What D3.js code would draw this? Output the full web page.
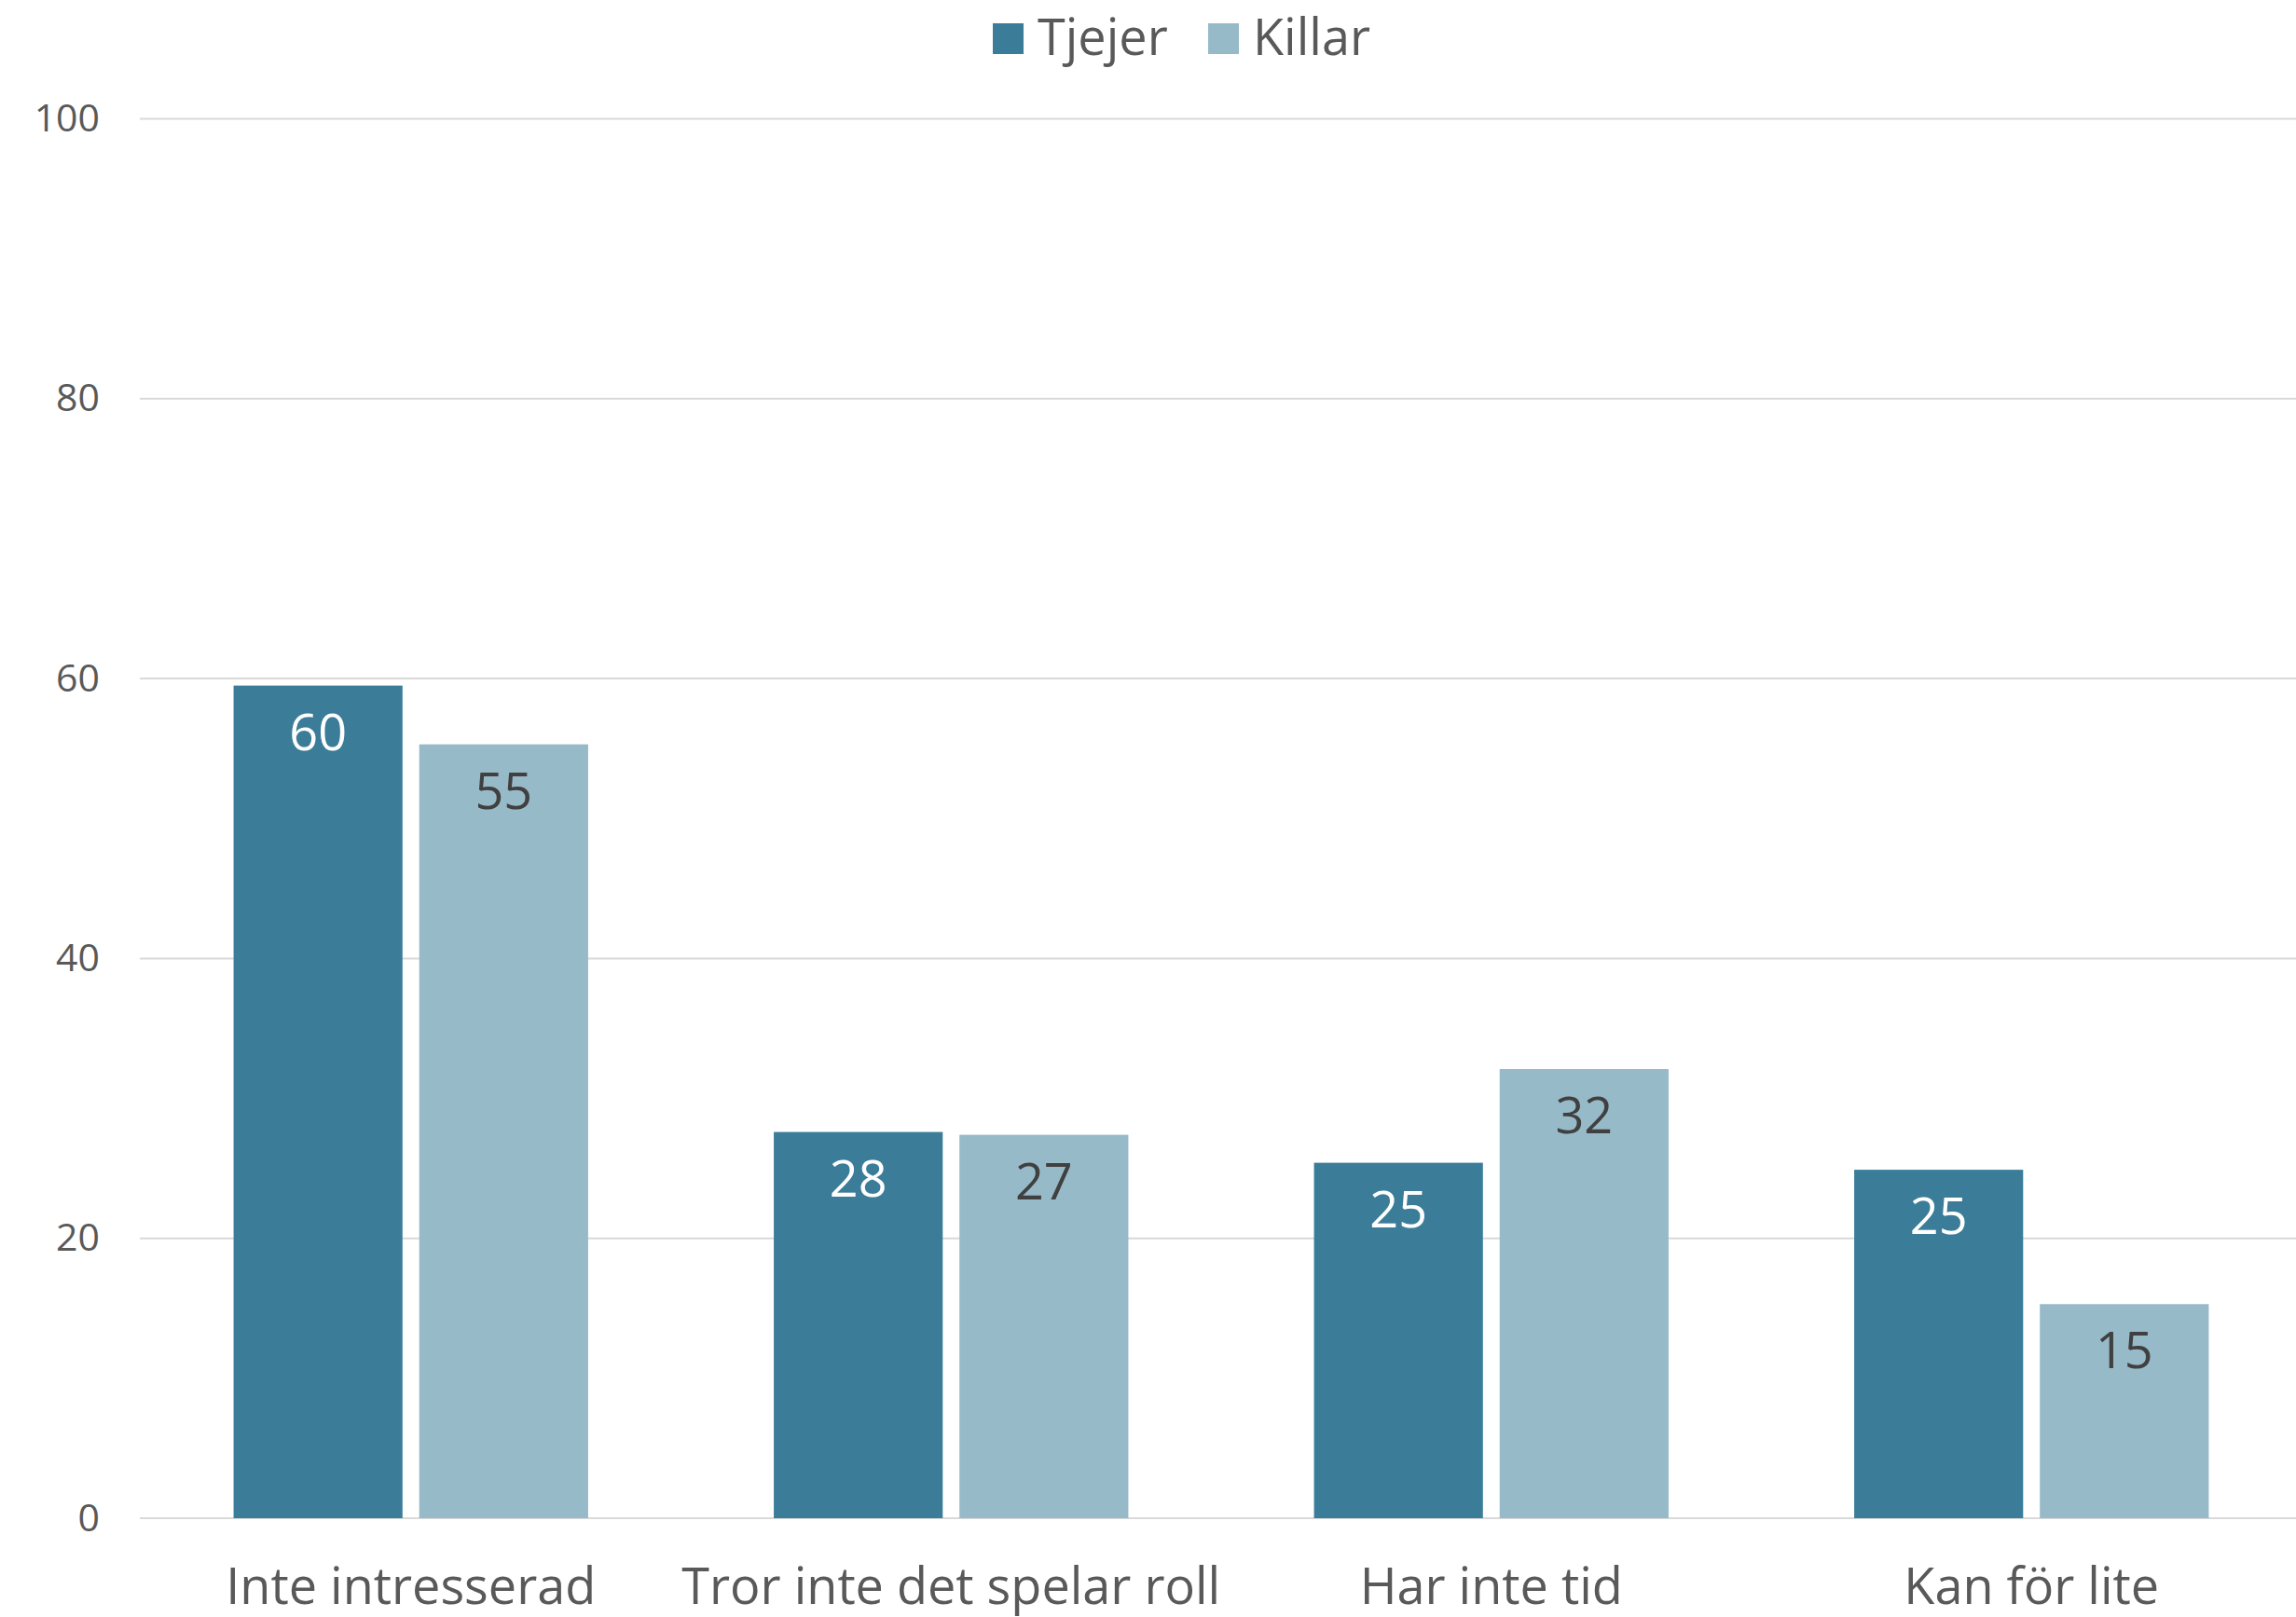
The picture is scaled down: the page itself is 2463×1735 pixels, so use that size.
<!DOCTYPE html>
<html>
<head>
<meta charset="utf-8">
<script src="https://cdn.jsdelivr.net/npm/d3@7"></script>
<style>
  body { margin: 0; background: #fff; }
  text { font-family: "Open Sans", "Noto Sans", sans-serif; }
</style>
</head>
<body>
<div id="chart"></div>
<script>
// Data
var categories = ["Inte intresserad", "Tror inte det spelar roll", "Har inte tid", "Kan för lite"];
var seriesNames = ["Tjejer", "Killar"];
var tjejer = [59.5, 27.6, 25.4, 24.9];
var killar = [55.3, 27.4, 32.1, 15.3];
var yTicks = [0, 20, 40, 60, 80, 100];

var colors = { "Tjejer": "#3b7d99", "Killar": "#97bac9" };
var labelColors = { "Tjejer": "#ffffff", "Killar": "#404040" };

var width = 2463, height = 1735;
var margin = { top: 127.5, right: 0, bottom: 106, left: 150 };

var svg = d3.select("#chart")
    .append("svg")
    .attr("width", width)
    .attr("height", height);

// Scales (category bands run slightly past the right edge, like the original)
var x0 = d3.scaleBand()
    .domain(categories)
    .range([margin.left + 1, margin.left + 1 + 4 * 579.5])
    .padding(0);

var x1 = d3.scaleBand()
    .domain(seriesNames)
    .range([0, x0.bandwidth()])
    .paddingInner(0.09)
    .paddingOuter(0.5);

var y = d3.scaleLinear()
    .domain([0, 100])
    .range([height - margin.bottom, margin.top]);

// Gridlines
svg.append("g")
    .selectAll("line")
    .data(yTicks)
    .enter().append("line")
    .attr("x1", margin.left)
    .attr("x2", width - margin.right)
    .attr("y1", function (d) { return y(d); })
    .attr("y2", function (d) { return y(d); })
    .style("stroke", "#d9d9d9")
    .style("stroke-width", 2);

// Y axis labels
var yAxis = svg.append("g")
    .attr("transform", "translate(" + (margin.left - 43) + ",0)")
    .call(d3.axisLeft(y).tickValues(yTicks).tickSize(0).tickPadding(0));
yAxis.select(".domain").remove();
yAxis.selectAll("text")
    .style("font-size", "41px")
    .style("fill", "#595959")
    .style("font-family", "'Open Sans', sans-serif");

// X axis labels
var xAxis = svg.append("g")
    .attr("transform", "translate(0," + y(0) + ")")
    .call(d3.axisBottom(x0).tickSize(0).tickPadding(0));
xAxis.select(".domain").remove();
xAxis.selectAll("text")
    .attr("dy", null)
    .attr("y", 92)
    .style("font-size", "54px")
    .style("fill", "#595959")
    .style("font-family", "'Open Sans', sans-serif");

// Build rows per category
var rows = categories.map(function (c, i) {
    return { category: c, values: [
        { key: "Tjejer", value: tjejer[i] },
        { key: "Killar", value: killar[i] }
    ] };
});

var groups = svg.selectAll(".group")
    .data(rows)
    .enter().append("g")
    .attr("class", "group")
    .attr("transform", function (d) { return "translate(" + x0(d.category) + ",0)"; });

groups.selectAll("rect")
    .data(function (d) { return d.values; })
    .enter().append("rect")
    .attr("x", function (d) { return x1(d.key); })
    .attr("y", function (d) { return y(d.value); })
    .attr("width", x1.bandwidth())
    .attr("height", function (d) { return y(0) - y(d.value); })
    .style("fill", function (d) { return colors[d.key]; });

// Value labels inside bar tops
groups.selectAll(".bar-label")
    .data(function (d) { return d.values; })
    .enter().append("text")
    .attr("class", "bar-label")
    .attr("x", function (d) { return x1(d.key) + x1.bandwidth() / 2; })
    .attr("y", function (d) { return y(d.value) + 69; })
    .attr("text-anchor", "middle")
    .text(function (d) { return Math.round(d.value); })
    .style("font-size", "54px")
    .style("fill", function (d) { return labelColors[d.key]; });

// Legend
var legendItems = [
    { key: "Tjejer", x: 1065 },
    { key: "Killar", x: 1296 }
];
var legend = svg.selectAll(".legend")
    .data(legendItems)
    .enter().append("g")
    .attr("class", "legend")
    .attr("transform", function (d) { return "translate(" + d.x + ",0)"; });

legend.append("rect")
    .attr("x", 0)
    .attr("y", 25)
    .attr("width", 33)
    .attr("height", 33)
    .style("fill", function (d) { return colors[d.key]; });

legend.append("text")
    .attr("x", 48)
    .attr("y", 58.5)
    .text(function (d) { return d.key; })
    .style("font-size", "54px")
    .style("fill", "#595959");
</script>
</body>
</html>
